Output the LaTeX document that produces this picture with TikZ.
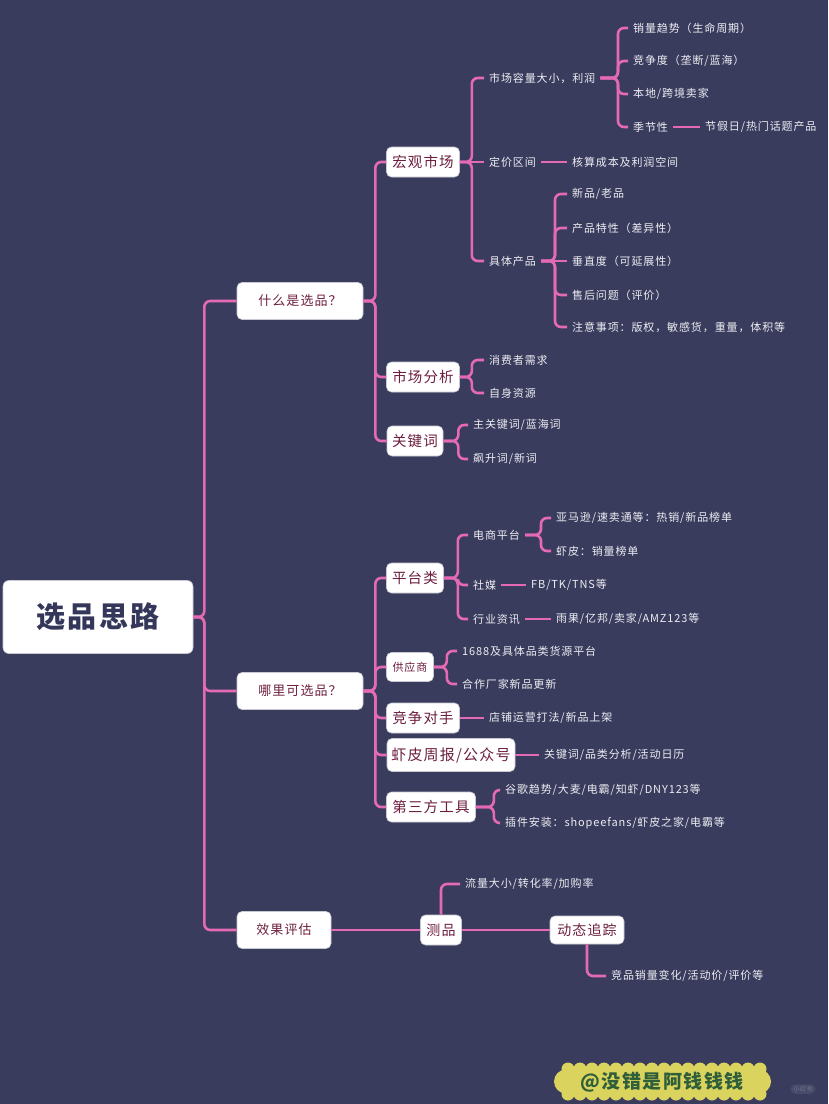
\documentclass[tikz,border=0pt]{standalone}
\usepackage{fontspec}
\setmainfont{Noto Sans CJK SC}[LetterSpace=8]

\definecolor{bgnavy}{HTML}{3A3C5E}
\definecolor{linkpink}{HTML}{E46AB3}
\definecolor{boxtext}{HTML}{6E1F3F}
\definecolor{roottext}{HTML}{35375A}
\definecolor{leaftext}{HTML}{EDEDF2}
\definecolor{boxedge}{HTML}{C9C9D2}
\definecolor{badgeyellow}{HTML}{DAD45E}
\definecolor{badgegreen}{HTML}{2F5E3A}

\newcommand*{\pagew}{828}
\newcommand*{\pageh}{1104}

\begin{document}
\begin{tikzpicture}
[
	x=1pt,
	y=-1pt,
	rootbox/.style={fill=white,draw=boxedge,line width=0.6pt,rounded corners=6pt,text=roottext,inner sep=0pt,font=\fontsize{29}{32}\selectfont\bfseries,minimum width=190pt,minimum height=73pt},
	topicbox/.style={fill=white,draw=boxedge,line width=0.6pt,rounded corners=5pt,text=boxtext,inner sep=0pt,font=\fontsize{13}{15}\selectfont,minimum height=37pt},
	subbox/.style={fill=white,draw=boxedge,line width=0.6pt,rounded corners=5pt,text=boxtext,inner sep=0pt,font=\fontsize{14.5}{16}\selectfont,minimum height=30pt},
	leaf/.style={anchor=west,text=leaftext,inner xsep=5pt,inner ysep=2pt,font=\fontsize{11}{13}\selectfont},
	link/.style={draw=linkpink,line width=2.6pt,rounded corners=6pt}
]

	% background
	\fill[bgnavy] (0,0) rectangle (\pagew,\pageh);
	\useasboundingbox (0,0) rectangle (\pagew,\pageh);

	% root and topics
	\node[rootbox] (root) at (98,617) {选品思路};
	\node[topicbox,minimum width=126pt] (what) at (300,301) {什么是选品？};
	\node[topicbox,minimum width=126pt] (where) at (300,691) {哪里可选品？};
	\node[topicbox,minimum width=94pt] (eval) at (284,930) {效果评估};

	\draw[link] (root.east) -- ++(11,0) |- (what.west);
	\draw[link] (root.east) -- ++(11,0) |- (where.west);
	\draw[link] (root.east) -- ++(11,0) |- (eval.west);

	% what: sub topics
	\node[subbox,minimum width=73pt] (macro) at (423,162) {宏观市场};
	\node[subbox,minimum width=73pt] (analysis) at (423,377) {市场分析};
	\node[subbox,minimum width=56pt] (keyword) at (415,441) {关键词};

	\draw[link] (what.east) -- ++(12,0) |- (macro.west);
	\draw[link] (what.east) -- ++(12,0) |- (analysis.west);
	\draw[link] (what.east) -- ++(12,0) |- (keyword.west);

	% macro market
	\node[leaf] (size) at (484,78) {市场容量大小，利润};
	\node[leaf] (price) at (484,162) {定价区间};
	\node[leaf] (product) at (484,261) {具体产品};

	\draw[link] (macro.east) -- ++(12,0) |- (size.west);
	\draw[link] (macro.east) -- (price.west);
	\draw[link] (macro.east) -- ++(12,0) |- (product.west);

	% market size
	\node[leaf] (trend) at (628,28) {销量趋势（生命周期）};
	\node[leaf] (compete) at (628,61) {竞争度（垄断/蓝海）};
	\node[leaf] (seller) at (628,94) {本地/跨境卖家};
	\node[leaf] (season) at (628,127) {季节性};
	\node[leaf] (holiday) at (700,127) {节假日/热门话题产品};

	\draw[link] (size.east) -- (618,78) |- (trend.west);
	\draw[link] (size.east) -- (618,78) |- (compete.west);
	\draw[link] (size.east) -- (618,78) |- (seller.west);
	\draw[link] (size.east) -- (618,78) |- (season.west);
	\draw[link] (season.east) -- (holiday.west);

	% pricing
	\node[leaf] (cost) at (567,162) {核算成本及利润空间};
	\draw[link] (price.east) -- (cost.west);

	% product
	\node[leaf] (newold) at (567,194) {新品/老品};
	\node[leaf] (feature) at (567,228) {产品特性（差异性）};
	\node[leaf] (vertical) at (567,261) {垂直度（可延展性）};
	\node[leaf] (aftersale) at (567,295) {售后问题（评价）};
	\node[leaf] (notice) at (567,327) {注意事项：版权，敏感货，重量，体积等};

	\draw[link] (product.east) -- (555,261) |- (newold.west);
	\draw[link] (product.east) -- (555,261) |- (feature.west);
	\draw[link] (product.east) -- (vertical.west);
	\draw[link] (product.east) -- (555,261) |- (aftersale.west);
	\draw[link] (product.east) -- (555,261) |- (notice.west);

	% market analysis
	\node[leaf] (demand) at (484,360) {消费者需求};
	\node[leaf] (resource) at (484,393) {自身资源};

	\draw[link] (analysis.east) -- ++(12,0) |- (demand.west);
	\draw[link] (analysis.east) -- ++(12,0) |- (resource.west);

	% keywords
	\node[leaf] (mainkw) at (468,425) {主关键词/蓝海词};
	\node[leaf] (risekw) at (468,459) {飙升词/新词};

	\draw[link] (keyword.east) -- ++(15,0) |- (mainkw.west);
	\draw[link] (keyword.east) -- ++(15,0) |- (risekw.west);

	% where: sub topics
	\node[subbox,minimum width=57pt] (platform) at (415,578) {平台类};
	\node[subbox,minimum width=47pt,minimum height=29pt,font=\fontsize{11}{13}\selectfont] (supplier) at (410,667) {供应商};
	\node[subbox,minimum width=73pt] (rival) at (423,718) {竞争对手};
	\node[subbox,minimum width=128pt,minimum height=33pt,font=\fontsize{15}{17}\selectfont] (weekly) at (451,755) {虾皮周报/公众号};
	\node[subbox,minimum width=89pt] (tools) at (431,807) {第三方工具};

	\draw[link] (where.east) -- ++(12,0) |- (platform.west);
	\draw[link] (where.east) -- ++(12,0) |- (supplier.west);
	\draw[link] (where.east) -- ++(12,0) |- (rival.west);
	\draw[link] (where.east) -- ++(12,0) |- (weekly.west);
	\draw[link] (where.east) -- ++(12,0) |- (tools.west);

	% platforms
	\node[leaf] (ecom) at (468,535) {电商平台};
	\node[leaf] (social) at (468,585) {社媒};
	\node[leaf] (news) at (468,619) {行业资讯};

	\draw[link] (platform.east) -- ++(14,0) |- (ecom.west);
	\draw[link] (platform.east) -- ++(14,0) |- (social.west);
	\draw[link] (platform.east) -- ++(14,0) |- (news.west);

	\node[leaf] (amazon) at (551,518) {亚马逊/速卖通等：热销/新品榜单};
	\node[leaf] (shopee) at (551,551) {虾皮：销量榜单};
	\node[leaf] (fbtk) at (526,585) {FB/TK/TNS等};
	\node[leaf] (media) at (551,619) {雨果/亿邦/卖家/AMZ123等};

	\draw[link] (ecom.east) -- (541,535) |- (amazon.west);
	\draw[link] (ecom.east) -- (541,535) |- (shopee.west);
	\draw[link] (social.east) -- (fbtk.west);
	\draw[link] (news.east) -- (media.west);

	% suppliers
	\node[leaf] (src1688) at (457,651) {1688及具体品类货源平台};
	\node[leaf] (factory) at (457,684) {合作厂家新品更新};

	\draw[link] (supplier.east) -- ++(13,0) |- (src1688.west);
	\draw[link] (supplier.east) -- ++(13,0) |- (factory.west);

	% rivals, weekly
	\node[leaf] (shopplay) at (484,718) {店铺运营打法/新品上架};
	\node[leaf] (calendar) at (539,755) {关键词/品类分析/活动日历};

	\draw[link] (rival.east) -- (shopplay.west);
	\draw[link] (weekly.east) -- (calendar.west);

	% tools
	\node[leaf] (google) at (500,790) {谷歌趋势/大麦/电霸/知虾/DNY123等};
	\node[leaf] (plugin) at (500,823) {插件安装：shopeefans/虾皮之家/电霸等};

	\draw[link] (tools.east) -- ++(18,0) |- (google.west);
	\draw[link] (tools.east) -- ++(18,0) |- (plugin.west);

	% evaluation
	\node[subbox,minimum width=41pt,font=\fontsize{14}{16}\selectfont] (test) at (441,930) {测品};
	\node[subbox,minimum width=74pt,minimum height=28pt,font=\fontsize{14}{16}\selectfont] (track) at (587,930) {动态追踪};
	\node[leaf] (traffic) at (460,884) {流量大小/转化率/加购率};
	\node[leaf] (compsales) at (606,976) {竞品销量变化/活动价/评价等};

	\draw[link] (eval.east) -- (test.west);
	\draw[link] (test.east) -- (track.west);
	\draw[link] (test.north) |- (traffic.west);
	\draw[link] (track.south) |- (compsales.west);

	% badge
	\fill[badgeyellow] (566,1069) rectangle (759,1094);
	\foreach \x in {568,580,...,760} {
		\fill[badgeyellow] (\x,1069) circle (6.5pt);
		\fill[badgeyellow] (\x,1094) circle (6.5pt);
	}
	\fill[badgeyellow] (566,1081.5) circle (12pt);
	\fill[badgeyellow] (759,1081.5) circle (12pt);
	\node[text=badgegreen,font=\fontsize{19}{21}\selectfont\bfseries,inner sep=0pt] (mark) at (662,1082) {@没错是阿钱钱钱};

	% logo
	\node[fill=white,fill opacity=0.08,text opacity=0.25,text=white,rounded corners=5pt,inner xsep=3pt,inner ysep=2pt,font=\fontsize{6}{7}\selectfont] (logo) at (803,1089) {小红书};

\end{tikzpicture}
\end{document}
